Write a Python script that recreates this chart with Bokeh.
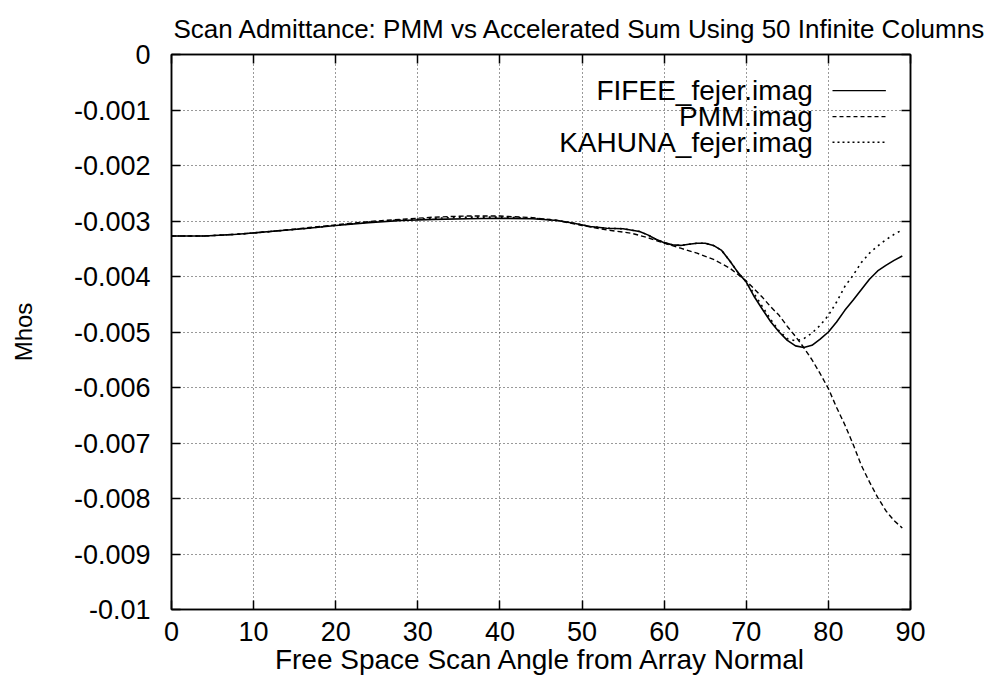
from bokeh.plotting import figure
from bokeh.models import Range1d, LinearAxis, FixedTicker, Label
from bokeh.embed import file_html
from bokeh.resources import INLINE

TITLE = "Scan Admittance: PMM vs Accelerated Sum Using 50 Infinite Columns"
X_LABEL = "Free Space Scan Angle from Array Normal"
Y_LABEL = "Mhos"

x_ticks = [0, 10, 20, 30, 40, 50, 60, 70, 80, 90]
y_ticks = [0, -0.001, -0.002, -0.003, -0.004, -0.005, -0.006, -0.007, -0.008, -0.009, -0.01]
y_tick_labels = ["0", "-0.001", "-0.002", "-0.003", "-0.004", "-0.005",
                 "-0.006", "-0.007", "-0.008", "-0.009", "-0.01"]

series_names = ["FIFEE_fejer.imag", "PMM.imag", "KAHUNA_fejer.imag"]

fifee_x = [0, 4, 8, 12, 16, 20, 24, 28, 32, 36, 40, 44, 47, 49, 51, 53, 55, 57, 58, 59,
           60, 61, 62, 63, 64, 65, 66, 67, 68, 69, 70, 71, 72, 73, 74, 75, 76, 77, 78, 79,
           80, 81, 82, 83, 84, 85, 86, 87, 88, 89]
fifee_y = [-0.00327, -0.00327, -0.00324, -0.00319, -0.00314, -0.00308, -0.00303, -0.00299,
           -0.00297, -0.00296, -0.00295, -0.00296, -0.00299, -0.00304, -0.00310, -0.00313,
           -0.00314, -0.00319, -0.00325, -0.00333, -0.00339, -0.00343, -0.00344, -0.00342,
           -0.00340, -0.00340, -0.00344, -0.00353, -0.00372, -0.00393, -0.00410, -0.00437,
           -0.00460, -0.00482, -0.00500, -0.00515, -0.00525, -0.00528, -0.00524, -0.00513,
           -0.00500, -0.00482, -0.00461, -0.00443, -0.00424, -0.00405, -0.00390, -0.00380,
           -0.00371, -0.00363]

pmm_x = [0, 4, 8, 12, 16, 20, 24, 28, 32, 36, 40, 44, 47, 50, 53, 56, 58, 60, 62, 64,
         66, 68, 70, 72, 73, 74, 75, 76, 77, 78, 79, 80, 81, 82, 83, 84, 85, 86, 87, 88, 89]
pmm_y = [-0.00327, -0.00327, -0.00324, -0.00319, -0.00313, -0.00307, -0.00301, -0.00297,
         -0.00293, -0.00291, -0.00291, -0.00294, -0.00299, -0.00308, -0.00316, -0.00322,
         -0.00330, -0.00340, -0.00349, -0.00358, -0.00369, -0.00385, -0.00408, -0.00438,
         -0.00455, -0.00470, -0.00490, -0.00508, -0.00528, -0.00550, -0.00575, -0.00602,
         -0.00636, -0.00667, -0.00702, -0.00740, -0.00770, -0.00798, -0.00822, -0.00840,
         -0.00853]

kahuna_x = [0, 4, 8, 12, 16, 20, 24, 28, 32, 36, 40, 44, 47, 49, 51, 53, 55, 57, 58, 59,
            60, 61, 62, 63, 64, 65, 66, 67, 68, 69, 70, 71, 72, 73, 74, 75, 76, 77, 78, 79,
            80, 81, 82, 83, 84, 85, 86, 87, 88, 89]
kahuna_y = [-0.00327, -0.00327, -0.00324, -0.00319, -0.00314, -0.00308, -0.00302, -0.00298,
            -0.00295, -0.00293, -0.00293, -0.00295, -0.00299, -0.00304, -0.00310, -0.00313,
            -0.00314, -0.00319, -0.00325, -0.00333, -0.00339, -0.00343, -0.00344, -0.00342,
            -0.00340, -0.00340, -0.00344, -0.00353, -0.00372, -0.00393, -0.00410, -0.00432,
            -0.00455, -0.00478, -0.00498, -0.00512, -0.00516, -0.00512, -0.00502, -0.00488,
            -0.00470, -0.00446, -0.00418, -0.00398, -0.00375, -0.00358, -0.00345, -0.00334,
            -0.00324, -0.00316]

FONT = "Liberation Sans"

p = figure(frame_width=739, frame_height=555,
           x_range=Range1d(0, 90), y_range=Range1d(-0.01, 0),
           output_backend="svg", toolbar_location=None,
           min_border_left=171, min_border_top=54, min_border_right=86, min_border_bottom=30,
           x_axis_label=X_LABEL, y_axis_label=Y_LABEL)
p.background_fill_color = "white"
p.border_fill_color = "white"
p.outline_line_color = "black"
p.outline_line_width = 1.5

p.title.text = TITLE
p.title.text_font = FONT
p.title.text_font_size = "26px"
p.title.text_font_style = "normal"
p.title.text_color = "black"
p.title.align = "left"
p.title.offset = 2
p.title.standoff = 22

xt = FixedTicker(ticks=x_ticks)
yt = FixedTicker(ticks=y_ticks)

for ax in [p.xaxis[0], p.yaxis[0]]:
    ax.major_tick_in = 9
    ax.major_tick_out = 0
    ax.minor_tick_in = 0
    ax.minor_tick_out = 0
    ax.axis_line_color = "black"
    ax.axis_line_width = 1.5
    ax.major_tick_line_width = 1.5
    ax.major_label_text_font = FONT
    ax.major_label_text_font_size = "27px"
    ax.major_label_text_color = "black"
    ax.axis_label_text_font = FONT
    ax.axis_label_text_font_style = "normal"
    ax.axis_label_text_color = "black"

p.xaxis[0].axis_label_text_font_size = "28px"
p.yaxis[0].axis_label_text_font_size = "24px"
p.xaxis[0].ticker = xt
p.yaxis[0].ticker = yt
p.yaxis[0].major_label_overrides = {t: s for t, s in zip(y_ticks, y_tick_labels)}
p.yaxis[0].major_label_standoff = 21
p.yaxis[0].axis_label_standoff = 34
p.xaxis[0].major_label_standoff = 12
p.xaxis[0].axis_label_standoff = 0

for loc, tk in [("right", yt), ("above", xt)]:
    ax = LinearAxis(ticker=tk, major_tick_in=9, major_tick_out=0, minor_tick_in=0,
                    minor_tick_out=0, major_label_text_font_size="0px",
                    axis_line_color="black", axis_line_width=1.5, major_tick_line_width=1.5)
    ax.major_label_text_alpha = 0
    p.add_layout(ax, loc)

p.xgrid.ticker = xt
p.ygrid.ticker = yt
for g in [p.xgrid[0], p.ygrid[0]]:
    g.grid_line_color = "black"
    g.grid_line_dash = "1 3"
    g.grid_line_width = 1
    g.grid_line_alpha = 0.8

p.line(fifee_x, fifee_y, line_color="black", line_width=1.6)
p.line(pmm_x, pmm_y, line_color="black", line_width=1.4, line_dash="5 3")
p.line(kahuna_x, kahuna_y, line_color="black", line_width=1.6, line_dash="2 4")

# legend (gnuplot style: right-aligned text, sample on the right)
leg_text_x = 78.1
leg_line_x = [80.5, 87.0]
leg_rows_y = [-0.00065, -0.00112, -0.00158]
leg_dashes = ["solid", "4 3", "2 3"]
for name, yy, dash in zip(series_names, leg_rows_y, leg_dashes):
    p.add_layout(Label(x=leg_text_x, y=yy, text=name, text_align="right",
                       text_baseline="middle", text_font=FONT, text_font_size="28px",
                       text_color="black"))
    p.line(leg_line_x, [yy, yy], line_color="black", line_width=1.4, line_dash=dash)

open("out.html", "w").write(file_html(p, INLINE))
